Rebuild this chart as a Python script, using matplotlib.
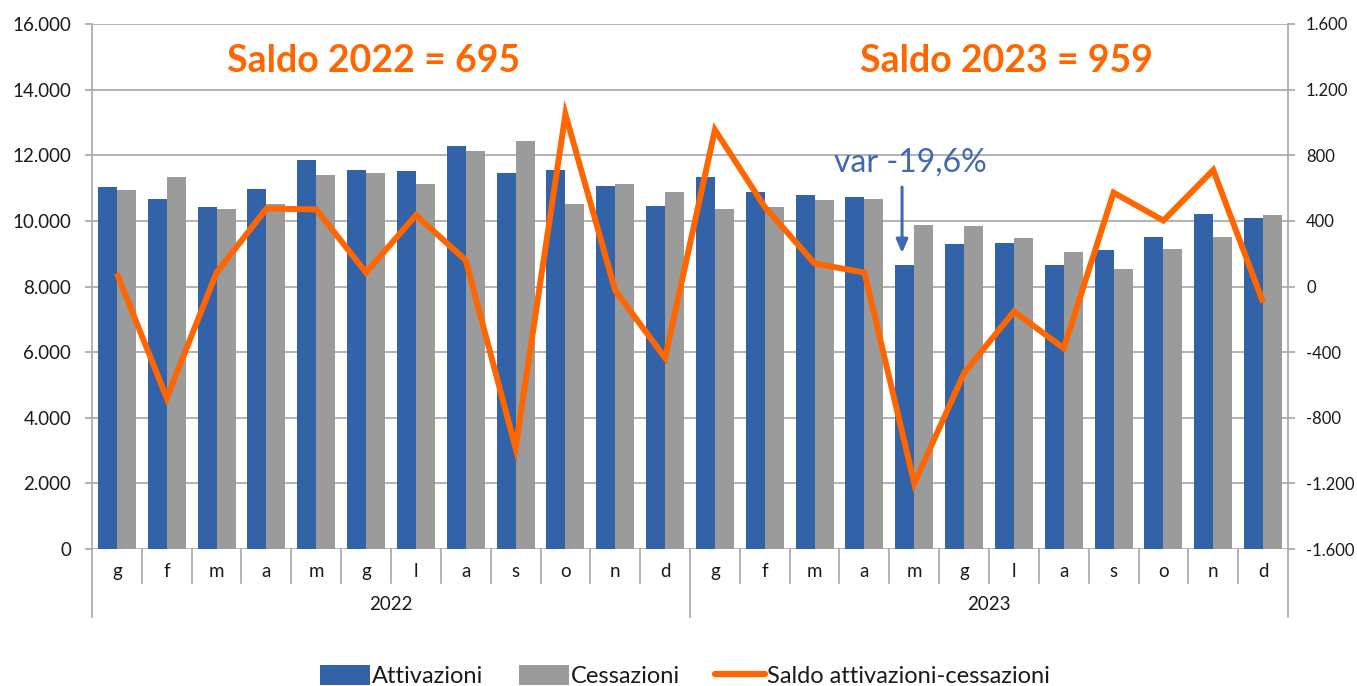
import matplotlib
matplotlib.use("Agg")
import matplotlib.pyplot as plt
from matplotlib.ticker import FixedLocator, FuncFormatter
from matplotlib.lines import Line2D
from matplotlib.patches import Patch
import matplotlib.transforms as mtransforms

# ---------------- data ----------------
months = ["g", "f", "m", "a", "m", "g", "l", "a", "s", "o", "n", "d"]
years = ["2022", "2023"]
attivazioni = [11030, 10660, 10430, 10970, 11870, 11540, 11530, 12270, 11450, 11550, 11060, 10450,
               11330, 10880, 10780, 10740, 8660, 9310, 9330, 8670, 9100, 9520, 10220, 10080]
cessazioni = [10950, 11340, 10350, 10500, 11410, 11450, 11110, 12120, 12440, 10520, 11110, 10870,
              10370, 10420, 10650, 10660, 9860, 9840, 9490, 9040, 8530, 9130, 9520, 10170]
saldo = [80, -680, 85, 475, 470, 85, 435, 160, -985, 1050, -25, -435,
         955, 485, 140, 85, -1200, -528, -152, -376, 572, 402, 710, -97]
annot_saldo = ["Saldo 2022 = 695", "Saldo 2023 = 959"]
annot_var = "var -19,6%"
legend_labels = ["Attivazioni", "Cessazioni", "Saldo attivazioni-cessazioni"]

# ---------------- style ----------------
BLUE = "#3263A8"
GRAY = "#9B9B9B"
ORANGE = "#FF6600"
VARBLUE = "#4169AF"
GRID = "#A6A6A6"
TXT = "#1A1A1A"
FONT = ["Lato", "DejaVu Sans"]
plt.rcParams["font.family"] = FONT

W, H = 1357, 686
fig = plt.figure(figsize=(W / 100, H / 100), dpi=100)
L, R, T, B = 92, 1288, 24, 549
ax = fig.add_axes([L / W, 1 - B / H, (R - L) / W, (B - T) / H])

n = len(attivazioni)
x = list(range(n))
bw = 0.38
ax.bar([i - bw / 2 for i in x], attivazioni, width=bw, color=BLUE, zorder=2)
ax.bar([i + bw / 2 for i in x], cessazioni, width=bw, color=GRAY, zorder=2)

ax.set_xlim(-0.5, n - 0.5)
ax.set_ylim(0, 16000)
ax.yaxis.set_major_locator(FixedLocator(range(0, 16001, 2000)))
fmt = FuncFormatter(lambda v, p: f"{v:,.0f}".replace(",", "."))
ax.yaxis.set_major_formatter(fmt)
ax.grid(axis="y", color=GRID, linewidth=1.2, zorder=0)
ax.set_axisbelow(True)
ax.tick_params(axis="y", length=5, width=1.2, color=GRID, pad=10, labelsize=13.5, labelcolor=TXT)
ax.set_xticks([])
for s in ["top", "right", "bottom"]:
    ax.spines[s].set_visible(False)
ax.spines["left"].set_color(GRID)
ax.spines["left"].set_linewidth(1.2)

# right axis
ax2 = ax.twinx()
ax2.set_ylim(-1600, 1600)
ax2.yaxis.set_major_locator(FixedLocator(range(-1600, 1601, 400)))
ax2.yaxis.set_major_formatter(fmt)
ax2.tick_params(axis="y", length=5, width=1.2, color=GRID, pad=8, labelsize=12, labelcolor=TXT)
for s in ["top", "left", "bottom"]:
    ax2.spines[s].set_visible(False)
ax2.spines["right"].set_color(GRID)
ax2.spines["right"].set_linewidth(1.2)
ax2.plot(x, saldo, color=ORANGE, linewidth=4.3, solid_joinstyle="miter",
         solid_capstyle="butt", zorder=3)

# multi-level x axis
ph = B - T
trans = mtransforms.blended_transform_factory(ax.transData, ax.transAxes)
for i in range(n + 1):
    xx = i - 0.5
    depth = (617 - B) / ph if i % 12 == 0 else (583 - B) / ph
    ax.plot([xx, xx], [0, -depth], transform=trans, color=GRID, linewidth=1.2, clip_on=False)
for i in x:
    ax.text(i, -(577 - B) / ph, months[i % 12], transform=trans, ha="center", va="baseline",
            fontsize=13.5, color=TXT)
for k, yr in enumerate(years):
    ax.text(k * 12 + 5.5, -(610 - B) / ph, yr, transform=trans, ha="center", va="baseline",
            fontsize=13.5, color=TXT)

# annotations
trans2 = mtransforms.blended_transform_factory(ax2.transData, ax2.transAxes)
for xc, txt in zip([5.16, 17.84], annot_saldo):
    ax2.text(xc, 1 - (72 - T) / ph, txt, transform=trans2, ha="center", va="baseline",
             fontsize=27, fontweight="bold", color=ORANGE, zorder=5)
ax2.text(15.92, 1 - (172 - T) / ph, annot_var, transform=trans2, ha="center", va="baseline",
         fontsize=23, color=VARBLUE, zorder=5)
ax2.annotate("", xy=(15.755, 1 - (253 - T) / ph), xytext=(15.755, 1 - (187 - T) / ph),
             xycoords=trans2, textcoords=trans2,
             arrowprops=dict(arrowstyle="-|>,head_length=0.8,head_width=0.35", color=VARBLUE,
                             linewidth=2.2, shrinkA=0, shrinkB=0), zorder=5)

# legend
handles = [Patch(facecolor=BLUE, edgecolor="none"), Patch(facecolor=GRAY, edgecolor="none"),
           Line2D([0], [0], color=ORANGE, linewidth=4.5, solid_capstyle="round")]
fig.legend(handles, legend_labels, loc="center", bbox_to_anchor=(0.505, 1 - 676 / H), ncol=3,
           frameon=False, fontsize=17, handlelength=2.1, handleheight=0.9, handletextpad=0.1,
           columnspacing=1.5, borderpad=0, labelcolor=TXT)

fig.savefig("out.png", dpi=100)
